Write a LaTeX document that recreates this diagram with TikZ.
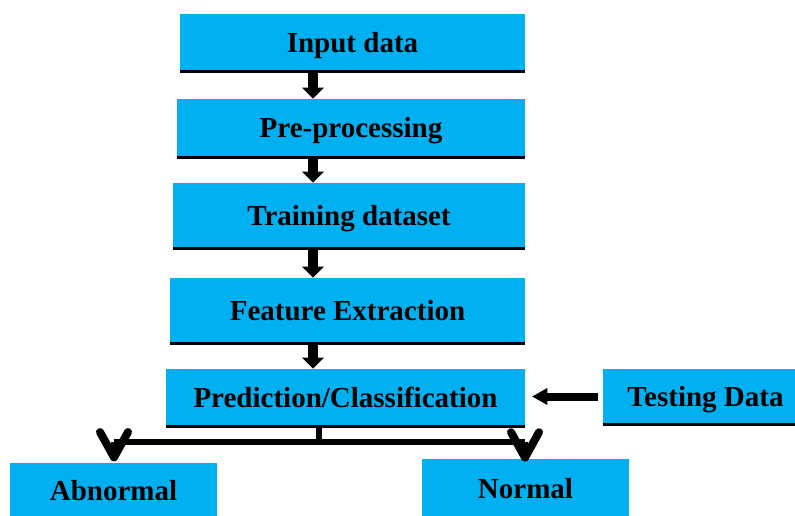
\documentclass[tikz,border=0pt]{standalone}
\usepackage{fontspec}
\setmainfont{Liberation Serif}
\usetikzlibrary{arrows.meta,calc}
\definecolor{boxblue}{RGB}{0,176,240}
\begin{document}
\begin{tikzpicture}[x=0.75pt,y=-0.75pt,
  box/.style={fill=boxblue, draw=none, inner sep=0pt, text=black,
    text height=14.25pt, text depth=-1.5pt,
    font=\fontsize{21.75}{26}\selectfont\bfseries},
  baseline/.style={line width=2.25pt, black},
  varrow/.style={line width=7.5pt, black,
    -{Triangle[length=8.25pt,width=16.5pt,line width=0pt]}},
  harrow/.style={line width=6pt, black,
    -{Triangle[length=11.25pt,width=12.75pt,line width=0pt]}},
  splitline/.style={line width=4.5pt, black},
  chevron/.style={line width=4.5pt, black,
    -{Straight Barb[length=19pt,width=21pt,line width=6pt,round]}}]
\clip (0,0) rectangle (795,515);
\fill[white] (0,0) rectangle (795,515);

% process boxes
\node[box, minimum width=258.75pt, minimum height=42.75pt] (inp)  at (352.5,42.5)  {Input data};
\node[box, minimum width=261pt,    minimum height=43.5pt]  (pre)  at (351,128)     {Pre-processing};
\node[box, minimum width=264pt,    minimum height=48.75pt] (trn)  at (349,215.5)   {Training dataset};
\node[box, minimum width=266.25pt, minimum height=48.75pt] (fex)  at (347.5,310.5) {Feature Extraction};
\node[box, minimum width=269.25pt, minimum height=42.75pt] (pred) at (345.5,397.5) {Prediction/Classification};
\node[box, minimum width=153.75pt, minimum height=42pt]    (test) at (705.5,396.5) {Testing Data};
\node[box, minimum width=155.25pt, minimum height=42pt]    (abn)  at (113.5,491)   {Abnormal};
\node[box, minimum width=155.25pt, minimum height=44pt]    (nrm)  at (525.5,488.5) {Normal};

% dark lower edges
\foreach \b in {inp,pre,trn,fex,pred,test}
  \draw[baseline] (\b.south west) -- (\b.south east);

% main chain
\coordinate (ax) at (313,0);
\draw[varrow] (inp.south -| ax) -- (pre.north -| ax);
\draw[varrow] (pre.south -| ax) -- (trn.north -| ax);
\draw[varrow] (trn.south -| ax) -- (fex.north -| ax);
\draw[varrow] (fex.south -| ax) -- (pred.north -| ax);

% test input
\draw[harrow, shorten <=3.75pt, shorten >=5.25pt] (test.west) -- (test.west -| pred.east);

% split into the two outcomes
\coordinate (stem) at (319,441.5);
\coordinate (barL) at (114,441.5);
\coordinate (barR) at (525,441.5);
\draw[line width=4.5pt] (pred.south -| stem) -- (stem);
\draw[splitline] (barL) -- (barR);
\draw[chevron, shorten >=1pt] (barL) -- (abn.north -| barL);
\draw[chevron, shorten >=-2pt] (barR) -- (nrm.north -| barR);
\end{tikzpicture}
\end{document}
